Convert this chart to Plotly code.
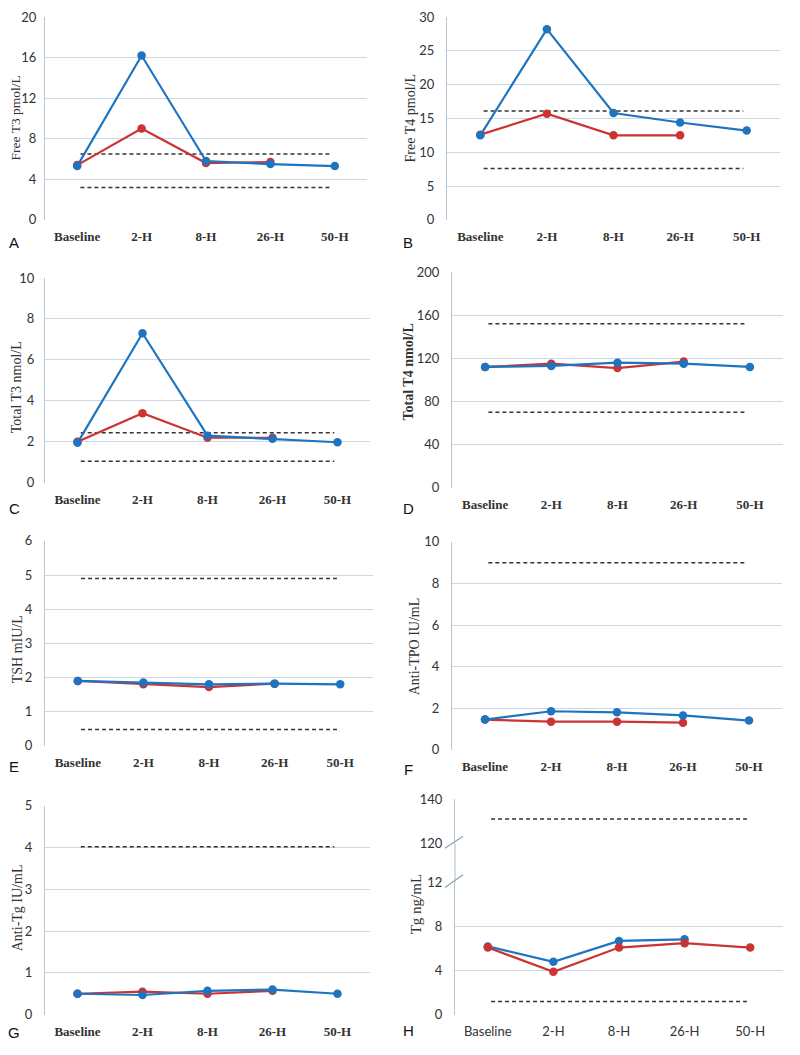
import plotly.graph_objects as go

# ---------------- data ----------------
categories = ["Baseline", "2-H", "8-H", "26-H", "50-H"]

free_t3_blue = [5.3, 16.2, 5.8, 5.5, 5.3]
free_t3_red = [5.4, 9.0, 5.6, 5.7, None]
free_t3_ref = [6.5, 3.2]

free_t4_blue = [12.5, 28.2, 15.8, 14.4, 13.2]
free_t4_red = [12.6, 15.7, 12.5, 12.5, None]
free_t4_ref = [16.1, 7.6]

total_t3_blue = [1.95, 7.3, 2.3, 2.15, 1.98]
total_t3_red = [2.0, 3.4, 2.2, 2.2, None]
total_t3_ref = [2.45, 1.05]

total_t4_blue = [112, 113, 116, 115, 112]
total_t4_red = [112, 115, 111, 117, None]
total_t4_ref = [152, 70]

tsh_blue = [1.9, 1.85, 1.8, 1.82, 1.8]
tsh_red = [1.9, 1.8, 1.72, 1.82, None]
tsh_ref = [4.9, 0.48]

anti_tpo_blue = [1.45, 1.85, 1.8, 1.65, 1.4]
anti_tpo_red = [1.45, 1.35, 1.35, 1.3, None]
anti_tpo_ref = [9.0]

anti_tg_blue = [0.5, 0.47, 0.57, 0.6, 0.5]
anti_tg_red = [0.5, 0.55, 0.5, 0.57, None]
anti_tg_ref = [4.02]

tg_blue = [6.2, 4.8, 6.7, 6.85, None]
tg_red = [6.1, 3.9, 6.1, 6.5, 6.1]
tg_ref_low = [1.2]
tg_ref_high = [131]

y_titles = ["Free T3 pmol/L", "Free T4 pmol/L", "Total T3 nmol/L", "Total T4 nmol/L",
            "TSH mIU/L", "Anti-TPO IU/mL", "Anti-Tg IU/mL", "Tg ng/mL"]
panel_letters = ["A", "B", "C", "D", "E", "F", "G", "H"]

# ---------------- style ----------------
W, H = 800, 1055
OFF = 8  # default page body margin in the browser
BLUE = "#1f74c0"
RED = "#cc3333"
GRID = "#c9d8e4"
AXIS = "#b8c6d2"
DASH = "#333333"

def px(x):
    return (x - OFF) / W

def py(y):
    return 1 - (y - OFF) / H

# pixel boxes (screen coordinates): (left, right, top, bottom)
boxes = [
    (45, 367, 9, 215),
    (447, 780, 9, 215),
    (45, 370, 274, 482),
    (452, 783, 268, 487),
    (45, 373, 541, 749),
    (452, 782, 542, 753),
    (45, 370, 810, 1022),
    (455, 783, 888, 1022),
]
h_upper = (803, 848)

panels = [
    (free_t3_blue, free_t3_red, free_t3_ref, [0, 20], 4),
    (free_t4_blue, free_t4_red, free_t4_ref, [0, 30], 5),
    (total_t3_blue, total_t3_red, total_t3_ref, [0, 10], 2),
    (total_t4_blue, total_t4_red, total_t4_ref, [0, 200], 40),
    (tsh_blue, tsh_red, tsh_ref, [0, 6], 1),
    (anti_tpo_blue, anti_tpo_red, anti_tpo_ref, [0, 10], 2),
    (anti_tg_blue, anti_tg_red, anti_tg_ref, [0, 5], 1),
    (tg_blue, tg_red, tg_ref_low, [0, 12], 4),
]

title_pos = [(15, 112, 13.5, False), (410, 112, 14, False), (16, 385, 14, False), (409, 370, 14, True),
             (17, 651, 14, False), (414, 648, 14, False), (17, 914, 14, False), (416, 910, 15, False)]
letter_pos = [(14, 238), (408, 238), (14, 508), (408, 508), (14, 770), (408, 773), (14, 1040), (408, 1038)]
ytick_standoff = [5, 9, 7, 9, 9, 9, 9, 9]

xpos = list(range(len(categories)))
ref_x = [0.05, 3.95]

fig = go.Figure()
layout = dict(width=W, height=H, margin=dict(l=0, r=0, t=0, b=0),
              paper_bgcolor="white", plot_bgcolor="white", showlegend=False)
annotations = []
shapes = []

def add_line(xa, ya, yvals, color):
    fig.add_trace(go.Scatter(x=xpos, y=yvals, xaxis=xa, yaxis=ya, mode="lines+markers",
                             line=dict(color=color, width=2.2),
                             marker=dict(color=color, size=8.5), connectgaps=False,
                             hoverinfo="skip"))

def add_ref(xa, ya, val):
    fig.add_trace(go.Scatter(x=ref_x, y=[val, val], xaxis=xa, yaxis=ya, mode="lines",
                             line=dict(color=DASH, width=1.5, dash="4px,3px"),
                             hoverinfo="skip"))

for i, (blue, red, refs, yr, dt) in enumerate(panels):
    n = i + 1
    xa = "x" if n == 1 else f"x{n}"
    ya = "y" if n == 1 else f"y{n}"
    l, r, t, b = boxes[i]
    sans_x = (i == 7)
    layout["xaxis" if n == 1 else f"xaxis{n}"] = dict(
        domain=[px(l), px(r)], anchor=ya, range=[-0.5, 4.5],
        tickmode="array", tickvals=xpos, ticktext=categories,
        showgrid=False, zeroline=False, showline=False, ticks="",
        ticklabelstandoff=7,
        tickfont=dict(family="Lato" if sans_x else "Liberation Serif", size=13,
                      color="#333333", weight="normal" if sans_x else "bold"),
    )
    layout["yaxis" if n == 1 else f"yaxis{n}"] = dict(
        domain=[py(b), py(t)], anchor=xa, range=yr, dtick=dt, tick0=0,
        showgrid=True, gridcolor=GRID, gridwidth=1.2, zeroline=False,
        showline=True, linecolor=AXIS, linewidth=1.2, ticks="",
        ticklabelstandoff=ytick_standoff[i],
        tickfont=dict(family="Lato", size=13, color="#333333"),
    )
    for v in refs:
        add_ref(xa, ya, v)
    if i == 7:
        add_line(xa, ya, blue, BLUE)
        add_line(xa, ya, red, RED)
    else:
        add_line(xa, ya, red, RED)
        add_line(xa, ya, blue, BLUE)

    tx, ty, fs, bold = title_pos[i]
    annotations.append(dict(x=px(tx), y=py(ty), xref="paper", yref="paper",
                            text=y_titles[i], textangle=-90, showarrow=False,
                            xanchor="center", yanchor="middle",
                            font=dict(family="Liberation Serif", size=fs, color="#333333",
                                      weight="bold" if bold else "normal")))
    lx, ly = letter_pos[i]
    annotations.append(dict(x=px(lx), y=py(ly), xref="paper", yref="paper",
                            text=panel_letters[i], showarrow=False,
                            xanchor="center", yanchor="middle",
                            font=dict(family="Liberation Sans", size=15, color="#111111")))

# upper segment of broken axis in panel H
l, r, t, b = boxes[7]
layout["yaxis9"] = dict(
    domain=[py(h_upper[1]), py(h_upper[0])], anchor="x8", range=[120, 140], dtick=20, tick0=120,
    showgrid=True, gridcolor=GRID, gridwidth=1.2, zeroline=False,
    showline=True, linecolor=AXIS, linewidth=1.2, ticks="",
    ticklabelstandoff=9, tickfont=dict(family="Lato", size=13, color="#333333"),
)
for v in tg_ref_high:
    add_ref("x8", "y9", v)

# axis line through the break and break marks
shapes.append(dict(type="line", xref="paper", yref="paper", x0=px(l), x1=px(l),
                   y0=py(t), y1=py(h_upper[1]), line=dict(color=AXIS, width=1.2)))
for (x0, y0, x1, y1) in [(445, 853, 463, 841), (445, 893, 463, 880)]:
    shapes.append(dict(type="line", xref="paper", yref="paper", x0=px(x0), y0=py(y0),
                       x1=px(x1), y1=py(y1), line=dict(color="#8aa0b0", width=1.2)))

layout["annotations"] = annotations
layout["shapes"] = shapes
fig.update_layout(**layout)
fig.write_html("out.html")
